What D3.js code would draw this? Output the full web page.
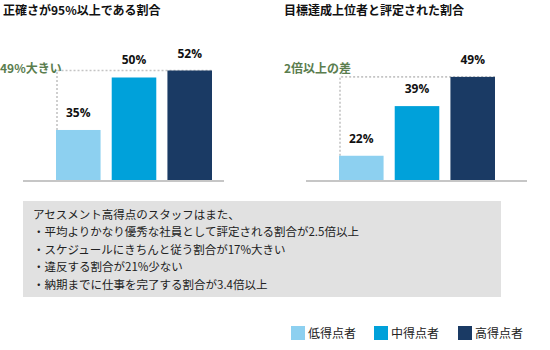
<!DOCTYPE html>
<html><head><meta charset="utf-8">
<script src="https://cdn.jsdelivr.net/npm/d3@7"></script>
<style>body{margin:0;background:#fff}svg{display:block}</style>
</head><body>
<svg id="c" width="550" height="350"></svg>
<script>
const groups = ["低得点者", "中得点者", "高得点者"];
const colors = ["#8dd0f0", "#00a1da", "#1a3a64"];
const titles = ["正確さが95%以上である割合", "目標達成上位者と評定された割合"];
const accuracyValues = [35, 50, 52];
const topRatedValues = [22, 39, 49];
const annotations = ["49%大きい", "2倍以上の差"];
const noteLines = [
  "アセスメント高得点のスタッフはまた、",
  "・平均よりかなり優秀な社員として評定される割合が2.5倍以上",
  "・スケジュールにきちんと従う割合が17%大きい",
  "・違反する割合が21%少ない",
  "・納期までに仕事を完了する割合が3.4倍以上"
];

const svg = d3.select("#c");
const font = "'Noto Sans CJK JP', 'Noto Sans', sans-serif";

const panels = [
  {values: accuracyValues, x0: 56, axisX: [23, 224], titleX: 3, annX: 0, domain: [20.7, 52], rangeTop: 70.5},
  {values: topRatedValues, x0: 339, axisX: [306, 527], titleX: 284, annX: 284, domain: [13.7, 49], rangeTop: 76.9}
];

panels.forEach((p, i) => {
  const g = svg.append("g");
  const x = d3.scaleBand().domain(groups).range([p.x0, p.x0 + 156]).paddingInner(0.2).paddingOuter(0);
  const y = d3.scaleLinear().domain(p.domain).range([180, p.rangeTop]);

  g.append("text").attr("x", p.titleX).attr("y", 15).text(titles[i])
    .attr("font-family", font).attr("font-size", 12).attr("font-weight", "bold").attr("fill", "#111");

  // dotted guide
  const xl = x(groups[0]) + 1;
  const xr = x(groups[2]) + x.bandwidth();
  const yTop = y(p.values[2]);
  const yLow = y(p.values[0]);
  g.append("path").attr("d", `M${xl},${yLow}V${yTop}H${xr}`)
    .attr("fill", "none").attr("stroke", "#c4c4c4").attr("stroke-width", 1.6).attr("stroke-dasharray", "2,2");

  g.append("text").attr("x", p.annX).attr("y", 73).text(annotations[i])
    .attr("font-family", font).attr("font-size", 12).attr("font-weight", "bold").attr("fill", "#5a7d4e");

  g.selectAll("rect.bar").data(p.values).join("rect").attr("class", "bar")
    .attr("x", (d, j) => x(groups[j])).attr("width", x.bandwidth())
    .attr("y", d => y(d)).attr("height", d => 180 - y(d))
    .attr("fill", (d, j) => colors[j]);

  g.selectAll("text.val").data(p.values).join("text").attr("class", "val")
    .attr("x", (d, j) => x(groups[j]) + x.bandwidth() / 2).attr("y", d => y(d) - 13)
    .attr("text-anchor", "middle").text(d => d + "%")
    .attr("font-family", "'Open Sans', sans-serif").attr("font-size", 12).attr("font-weight", "bold").attr("fill", "#111");

  g.append("line").attr("x1", p.axisX[0]).attr("x2", p.axisX[1]).attr("y1", 181).attr("y2", 181)
    .attr("stroke", "#c6c6c6").attr("stroke-width", 2);
});

// note box
svg.append("rect").attr("x", 23).attr("y", 201).attr("width", 478).attr("height", 96).attr("fill", "#e1e1e1");
svg.selectAll("text.note").data(noteLines).join("text").attr("class", "note")
  .attr("x", 33).attr("y", (d, i) => 219 + i * 17.4).text(d => d)
  .attr("font-family", font).attr("font-size", 11.5).attr("fill", "#222");

// legend
const legX = [291, 374, 458];
groups.forEach((gname, i) => {
  svg.append("rect").attr("x", legX[i]).attr("y", 326).attr("width", 14).attr("height", 14).attr("fill", colors[i]);
  svg.append("text").attr("x", legX[i] + 17).attr("y", 337.5).text(gname)
    .attr("font-family", font).attr("font-size", 12).attr("fill", "#222");
});
</script>
</body></html>
